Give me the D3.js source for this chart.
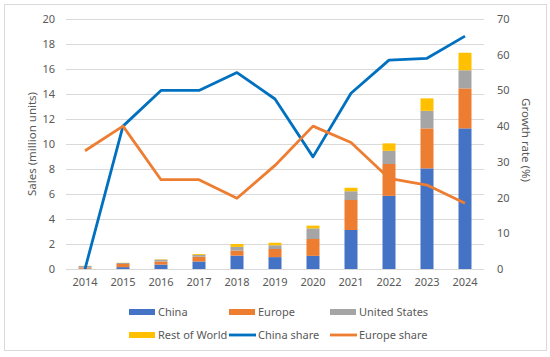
<!DOCTYPE html>
<html>
<head>
<meta charset="utf-8">
<script src="https://cdn.jsdelivr.net/npm/d3@7"></script>
<style>
  body { margin: 0; background: #fff; font-family: "Noto Sans", sans-serif; }
  text { fill: #595959; }
</style>
</head>
<body>
<div id="chart"></div>
<script>
// data
var years = ["2014", "2015", "2016", "2017", "2018", "2019", "2020", "2021", "2022", "2023", "2024"];
var china = [0.02, 0.15, 0.35, 0.6, 1.07, 0.95, 1.05, 3.12, 5.85, 8.05, 11.25];
var europe = [0.1, 0.25, 0.25, 0.38, 0.4, 0.65, 1.35, 2.4, 2.55, 3.2, 3.2];
var us = [0.12, 0.08, 0.15, 0.15, 0.3, 0.3, 0.85, 0.7, 1.05, 1.4, 1.45];
var row = [0.01, 0.02, 0.03, 0.07, 0.23, 0.2, 0.22, 0.28, 0.6, 1.0, 1.4];
var chinaShare = [0, 40, 50, 50, 55, 47.6, 31.4, 49.2, 58.5, 59, 65.2];
var europeShare = [33.1, 40, 25, 25, 19.8, 29, 40, 35.4, 25.4, 23.5, 18.4];
var leftTicks = [0, 2, 4, 6, 8, 10, 12, 14, 16, 18, 20];
var rightTicks = [0, 10, 20, 30, 40, 50, 60, 70];

var keys = ["China", "Europe", "United States", "Rest of World"];
var color = d3.scaleOrdinal(keys, ["#4472C4", "#ED7D31", "#A5A5A5", "#FFC000"]);
var lineColor = {"China share": "#0070C0", "Europe share": "#ED7D31"};

var table = years.map(function(y, i) {
  return {year: y, "China": china[i], "Europe": europe[i], "United States": us[i], "Rest of World": row[i]};
});
var stacked = d3.stack().keys(keys)(table);

// size settings
var W = 550, H = 357;
var margin = {top: 19, right: 66, bottom: 88, left: 66};
var width = W - margin.left - margin.right,
    height = H - margin.top - margin.bottom;

var svg = d3.select("#chart").append("svg").attr("width", W).attr("height", H);

// outer frame
svg.append("rect")
  .attr("x", 4.5).attr("y", 4.5).attr("width", 542).attr("height", 346)
  .attr("fill", "none").attr("stroke", "#d9d9d9");

var g = svg.append("g").attr("transform", "translate(" + margin.left + "," + margin.top + ")");

var x = d3.scaleBand().domain(years).range([0, width]);
var y = d3.scaleLinear().domain([0, 20]).range([height, 0]);
var y2 = d3.scaleLinear().domain([0, 70]).range([height, 0]);

// grid
g.selectAll("line.grid")
  .data(leftTicks)
  .enter().append("line")
    .attr("class", "grid")
    .attr("x1", 0).attr("x2", width)
    .attr("y1", function(d) { return Math.round(y(d)) + 0.5; })
    .attr("y2", function(d) { return Math.round(y(d)) + 0.5; })
    .attr("stroke", "#d9d9d9");

// bars
var barW = 13;
g.selectAll("g.layer")
  .data(stacked)
  .enter().append("g")
    .attr("class", "layer")
    .attr("fill", function(d) { return color(d.key); })
  .selectAll("rect")
  .data(function(d) { return d; })
  .enter().append("rect")
    .attr("x", function(d) { return x(d.data.year) + x.bandwidth() / 2 - barW / 2; })
    .attr("width", barW)
    .attr("y", function(d) { return y(d[1]); })
    .attr("height", function(d) { return y(d[0]) - y(d[1]); });

// lines
var line = d3.line()
  .x(function(d, i) { return x(years[i]) + x.bandwidth() / 2; })
  .y(function(d) { return y2(d); });

g.append("path").datum(chinaShare)
  .attr("fill", "none").attr("stroke", lineColor["China share"]).attr("stroke-width", 2.8)
  .attr("stroke-linejoin", "round")
  .attr("d", line);
g.append("path").datum(europeShare)
  .attr("fill", "none").attr("stroke", lineColor["Europe share"]).attr("stroke-width", 2.8)
  .attr("stroke-linejoin", "round")
  .attr("d", line);

// axes
var axL = g.append("g")
  .call(d3.axisLeft(y).tickValues(leftTicks).tickSize(0).tickPadding(11));
var axR = g.append("g")
  .attr("transform", "translate(" + width + ",0)")
  .call(d3.axisRight(y2).tickValues(rightTicks).tickSize(0).tickPadding(13));
var axB = g.append("g")
  .attr("transform", "translate(0," + height + ")")
  .call(d3.axisBottom(x).tickSize(0).tickPadding(9));
[axL, axR, axB].forEach(function(a) {
  a.select(".domain").remove();
  a.selectAll("text").style("font-size", "11px").style("font-family", "Noto Sans").attr("fill", "#595959");
});

// axis titles
svg.append("text")
  .attr("transform", "translate(36,144) rotate(-90)")
  .attr("text-anchor", "middle")
  .style("font-size", "11.5px")
  .text("Sales (million units)");
svg.append("text")
  .attr("transform", "translate(522,140) rotate(90)")
  .attr("text-anchor", "middle")
  .style("font-size", "11.5px")
  .text("Growth rate (%)");

// legend
var legendItems = [
  {name: "China", type: "bar", col: 0, row: 0},
  {name: "Europe", type: "bar", col: 1, row: 0},
  {name: "United States", type: "bar", col: 2, row: 0},
  {name: "Rest of World", type: "bar", col: 0, row: 1},
  {name: "China share", type: "line", col: 1, row: 1},
  {name: "Europe share", type: "line", col: 2, row: 1}
];
var legX = [129, 229, 330], legY = [312, 335];
var leg = svg.append("g").selectAll("g")
  .data(legendItems)
  .enter().append("g")
    .attr("transform", function(d) { return "translate(" + legX[d.col] + "," + legY[d.row] + ")"; });
leg.filter(function(d) { return d.type === "bar"; })
  .append("rect")
    .attr("x", 0).attr("y", -3).attr("width", 26).attr("height", 6)
    .attr("fill", function(d) { return color(d.name); });
leg.filter(function(d) { return d.type === "line"; })
  .append("line")
    .attr("x1", 0).attr("x2", 27).attr("y1", 0).attr("y2", 0)
    .attr("stroke", function(d) { return lineColor[d.name]; })
    .attr("stroke-width", 2.8);
leg.append("text")
  .attr("x", 29).attr("y", 0).attr("dy", "0.35em")
  .style("font-size", "11px")
  .text(function(d) { return d.name; });
</script>
</body>
</html>
